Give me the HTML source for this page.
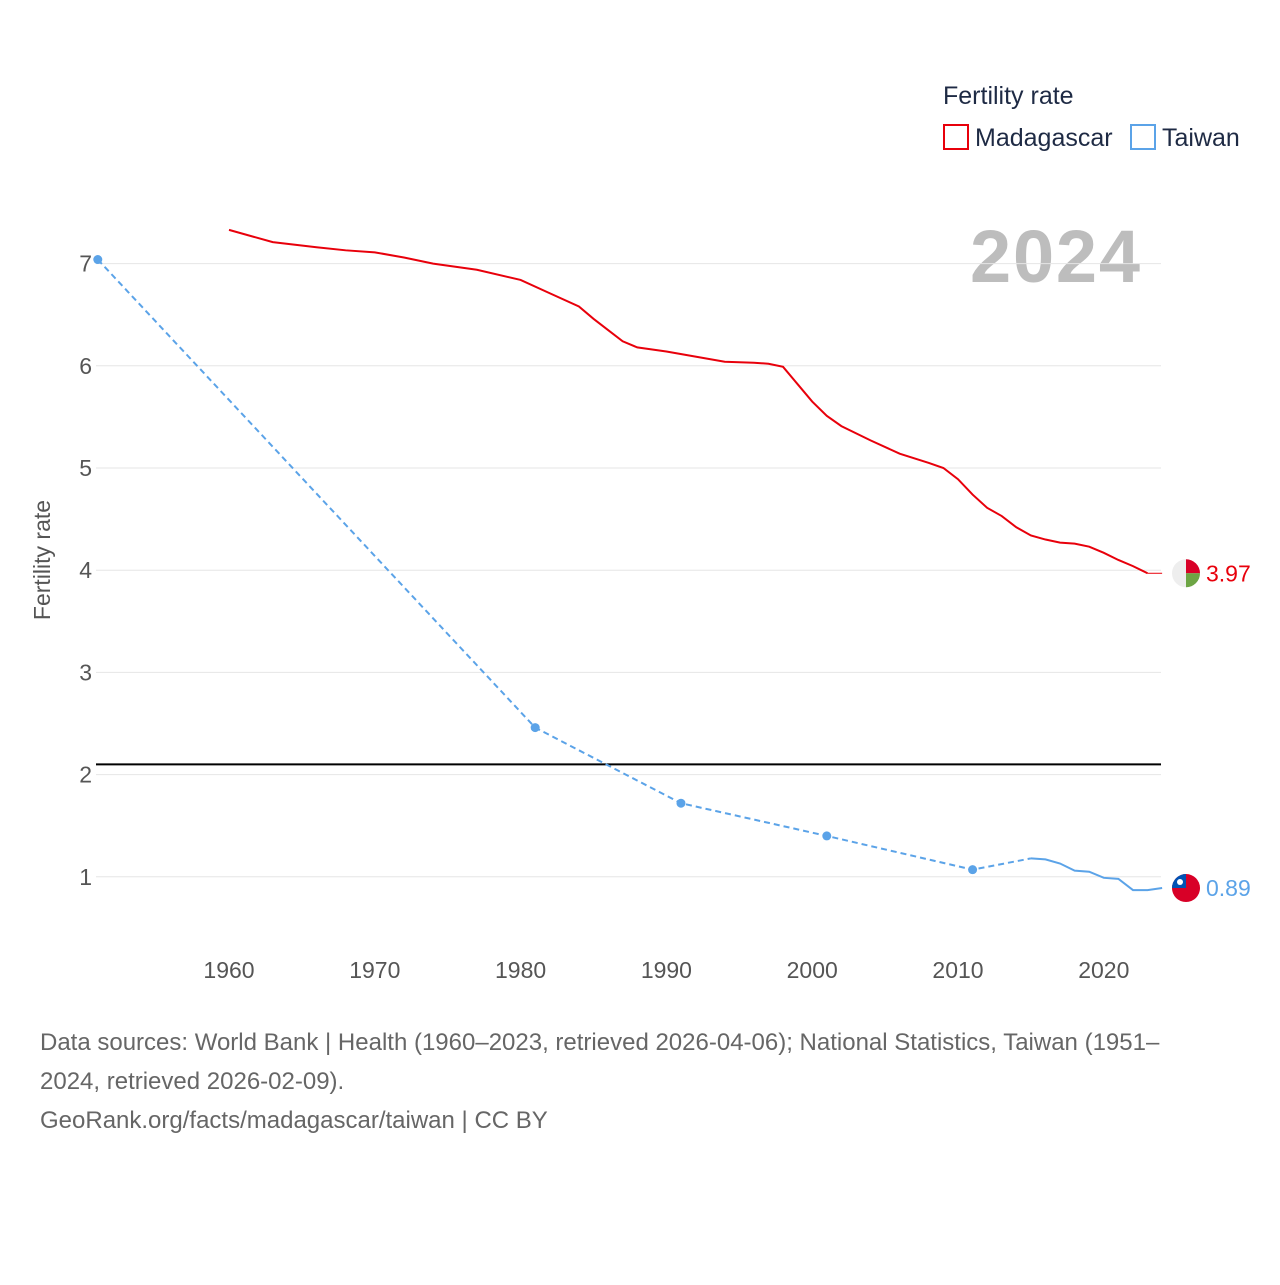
<!DOCTYPE html>
<html><head><meta charset="utf-8"><style>
body{margin:0;background:#fff;font-family:"Liberation Sans",sans-serif}
svg text{font-family:"Liberation Sans",sans-serif}
</style></head><body>
<svg width="1280" height="1280" xmlns="http://www.w3.org/2000/svg" id="chart">
<text x="943" y="104" font-size="25" fill="#1e2a44">Fertility rate</text>
<g><rect x="944" y="125" width="24" height="24" fill="none" stroke="#e8000b" stroke-width="2"/><text x="975" y="146" font-size="25" fill="#1e2a44">Madagascar</text></g>
<g><rect x="1131" y="125" width="24" height="24" fill="none" stroke="#5ba3e8" stroke-width="2"/><text x="1162" y="146" font-size="25" fill="#1e2a44">Taiwan</text></g>
<text x="1140" y="282" font-size="74" font-weight="bold" fill="#bdbdbd" text-anchor="end" textLength="170">2024</text>
<text transform="translate(50,560) rotate(-90)" font-size="23" fill="#555" text-anchor="middle">Fertility rate</text>
<g id="grid"></g><g id="series"></g>
<text x="40" y="1050" font-size="24" fill="#666">Data sources: World Bank | Health (1960–2023, retrieved 2026-04-06); National Statistics, Taiwan (1951–</text>
<text x="40" y="1089" font-size="24" fill="#666">2024, retrieved 2026-02-09).</text>
<text x="40" y="1128" font-size="24" fill="#666">GeoRank.org/facts/madagascar/taiwan | CC BY</text>
</svg>
<script>
const xTicks=[1960,1970,1980,1990,2000,2010,2020];
const yTicks=[1,2,3,4,5,6,7];
const mgYears=[1960,1963,1966,1968,1970,1972,1974,1977,1980,1982,1984,1985,1986,1987,1988,1990,1992,1994,1996,1997,1998,1999,2000,2001,2002,2004,2006,2008,2009,2010,2011,2012,2013,2014,2015,2016,2017,2018,2019,2020,2021,2022,2023];
const mgValues=[7.33,7.21,7.16,7.13,7.11,7.06,7.00,6.94,6.84,6.71,6.58,6.46,6.35,6.24,6.18,6.14,6.09,6.04,6.03,6.02,5.99,5.82,5.65,5.51,5.41,5.27,5.14,5.05,5.00,4.89,4.74,4.61,4.53,4.42,4.34,4.30,4.27,4.26,4.23,4.17,4.10,4.04,3.97];
const twSparseYears=[1951,1981,1991,2001,2011,2015];
const twSparseValues=[7.04,2.46,1.72,1.40,1.07,1.18];
const twYears=[2015,2016,2017,2018,2019,2020,2021,2022,2023,2024];
const twValues=[1.18,1.17,1.13,1.06,1.05,0.99,0.98,0.87,0.87,0.89];
const replacementRate=2.1;
const X=y=>229+(y-1960)*14.58;
const Y=v=>979-v*102.2;
const NS="http://www.w3.org/2000/svg";
function mk(t,a,p){const e=document.createElementNS(NS,t);for(const k in a)e.setAttribute(k,a[k]);p.appendChild(e);return e;}
const g=document.getElementById('grid'),s=document.getElementById('series');
yTicks.forEach(v=>{
 const l=mk('line',{x1:96,x2:1161,y1:Y(v),y2:Y(v),stroke:'#e6e6e6','stroke-width':1},g);
 
 
 const t=mk('text',{x:92,y:Y(v)+8,'font-size':23,fill:'#555','text-anchor':'end'},g);t.textContent=v;
 
 
});
xTicks.forEach(v=>{
 const t=mk('text',{x:X(v),y:978,'font-size':23,fill:'#555','text-anchor':'middle'},g);t.textContent=v;
 
 
});
const rl=mk('line',{x1:96,x2:1161,y1:Y(replacementRate),y2:Y(replacementRate),stroke:'#000','stroke-width':2},g);


const pts=(ys,vs)=>ys.map((y,i)=>X(y)+','+Y(vs[i])).join(' ');
const mg=mk('polyline',{points:pts(mgYears,mgValues),fill:'none',stroke:'#e8000b','stroke-width':2},s);


const last=mgValues[mgValues.length-1];
const mgx=mk('line',{x1:X(2023),x2:X(2024),y1:Y(last),y2:Y(last),stroke:'#e8000b','stroke-width':1},s);


const td=mk('polyline',{points:pts(twSparseYears,twSparseValues),fill:'none',stroke:'#5ba3e8','stroke-width':2,'stroke-dasharray':'6,4'},s);


twSparseYears.slice(0,5).forEach((y,i)=>{
 const c=mk('circle',{cx:X(y),cy:Y(twSparseValues[i]),r:4.5,fill:'#5ba3e8'},s);
 
 
});
const ts=mk('polyline',{points:pts(twYears,twValues),fill:'none',stroke:'#5ba3e8','stroke-width':2},s);


const fx=1186;
const my=Y(last);
const mf=mk('g',{},s);


mk('circle',{cx:fx,cy:my,r:14,fill:'#eee'},mf);
mk('path',{d:`M${fx},${my-14} A14,14 0 0 1 ${fx+14},${my} L${fx},${my}Z`,fill:'#d80027'},mf);
mk('path',{d:`M${fx+14},${my} A14,14 0 0 1 ${fx},${my+14} L${fx},${my}Z`,fill:'#6da544'},mf);
const ml=mk('text',{x:1206,y:my+8,'font-size':23,fill:'#e8000b'},s);ml.textContent=last.toFixed(2);


const tl=twValues[twValues.length-1],ty=Y(tl);
const tf=mk('g',{},s);


mk('circle',{cx:fx,cy:ty,r:14,fill:'#d80027'},tf);
mk('path',{d:`M${fx-14},${ty} A14,14 0 0 1 ${fx},${ty-14} L${fx},${ty}Z`,fill:'#0052b4'},tf);
mk('circle',{cx:fx-6,cy:ty-6,r:3,fill:'#fff'},tf);
const tlab=mk('text',{x:1206,y:ty+8,'font-size':23,fill:'#5ba3e8'},s);tlab.textContent=tl.toFixed(2);


</script>
</body></html>
